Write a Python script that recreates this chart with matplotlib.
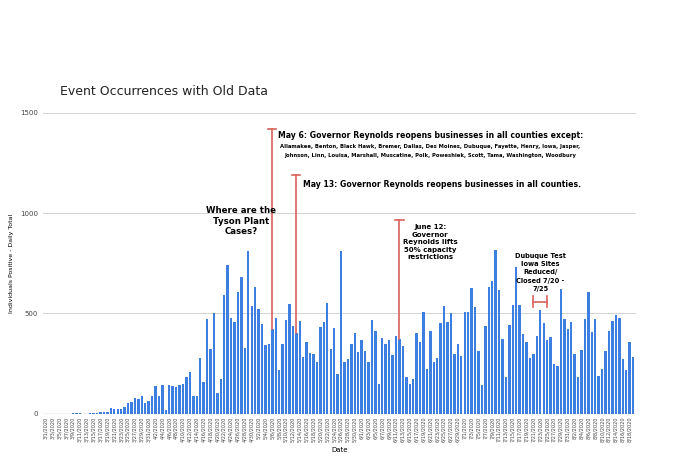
import datetime as dt
import matplotlib.pyplot as plt

values = [0, 0, 0, 0, 0, 0, 0, 0, 5, 3, 2, 1, 0, 2, 2, 4, 7, 10, 10, 28, 25, 25, 25, 33, 53, 60, 77, 72, 90, 53,
          65, 87, 137, 90, 145, 17, 142, 140, 135, 142, 150, 183, 208, 87, 87, 277, 160, 470, 325, 500,
          103, 173, 592, 743, 478, 457, 605, 682, 327, 813, 537, 630, 522, 450, 342, 348, 422, 477, 217, 347,
          467, 545, 437, 403, 462, 285, 358, 305, 297, 260, 432, 457, 552, 325, 427, 197, 813,
          260, 272, 347, 405, 308, 367, 315, 258, 468, 415, 148, 380, 350, 370, 292, 387, 375, 338, 182,
          148, 172, 402, 358, 505, 223, 412, 257, 277, 455, 538, 457, 502, 297, 350, 290, 507, 508, 625,
          532, 313, 142, 440, 630, 662, 815, 618, 372, 183, 445, 540, 730, 543, 398, 357, 280, 300, 387,
          517, 452, 370, 385, 247, 237, 620, 472, 422, 457, 300, 183, 320, 470, 605, 410, 472, 187, 222,
          315, 415, 460, 493, 475, 272, 218, 357, 282]
start = dt.date(2020, 3, 1)
dates = [start + dt.timedelta(days=i) for i in range(len(values))]
labels = [f"{d.month}/{d.day}/2020" for d in dates]

def idx(m, d):
    return (dt.date(2020, m, d) - start).days

fig = plt.figure(figsize=(6.8, 4.74), dpi=100)
ax = fig.add_axes([0.063, 0.127, 0.872, 0.635])
x = list(range(len(values)))
ax.bar(x, values, width=0.7, color='#3d7fe0')
ax.set_xlim(-0.8, len(values) - 0.2)
ax.set_ylim(0, 1500)
ax.set_yticks([0, 500, 1000, 1500])
ax.tick_params(axis='y', labelsize=5, length=0, colors='#444444')
ax.set_xticks(x[::2])
ax.set_xticklabels(labels[::2], rotation=90, fontsize=3.6, color='#444444')
ax.tick_params(axis='x', length=0, pad=2)
ax.grid(axis='y', color='#cccccc', lw=0.6)
ax.set_axisbelow(True)
for s in ax.spines.values():
    s.set_visible(False)
ax.axhline(0, color='#333333', lw=0.8)
ax.set_ylabel('Individuals Positive - Daily Total', fontsize=4.5)
ax.set_xlabel('Date', fontsize=5)
ax.xaxis.set_label_coords(0.5, -0.11)

fig.text(0.088, 0.80, 'Event Occurrences with Old Data', fontsize=9, color='#222222')

red = '#d9625a'
for (m, d), top in [((5, 6), 1420), ((5, 13), 1190), ((6, 12), 965)]:
    i = idx(m, d)
    ax.plot([i, i], [values[i], top], color=red, lw=1.2)
    ax.plot([i - 1.2, i + 1.2], [top, top], color=red, lw=1.2)
ax.plot([idx(7, 21), idx(7, 25)], [558, 558], color=red, lw=1.2)
for i in (idx(7, 21), idx(7, 25)):
    ax.plot([i, i], [530, 586], color=red, lw=1.2)

mid = idx(6, 21)
ax.text(mid, 1385, 'May 6: Governor Reynolds reopens businesses in all counties except:',
        fontsize=5.6, fontweight='bold', va='center', ha='center')
ax.text(mid, 1310, 'Allamakee, Benton, Black Hawk, Bremer, Dallas, Des Moines, Dubuque, Fayette, Henry, Iowa, Jasper,\n'
        'Johnson, Linn, Louisa, Marshall, Muscatine, Polk, Poweshiek, Scott, Tama, Washington, Woodbury',
        fontsize=3.8, fontweight='bold', va='center', ha='center', linespacing=1.8)
ax.text(idx(5, 13) + 2, 1145, 'May 13: Governor Reynolds reopens businesses in all counties.',
        fontsize=5.6, fontweight='bold', va='center')
ax.text(idx(4, 27), 960, 'Where are the\nTyson Plant\nCases?', fontsize=6.2, fontweight='bold',
        ha='center', va='center', linespacing=1.2)
ax.text(idx(6, 21), 855, 'June 12:\nGovernor\nReynolds lifts\n50% capacity\nrestrictions', fontsize=5,
        fontweight='bold', ha='center', va='center', linespacing=1.3)
ax.text(idx(7, 23), 705, 'Dubuque Test\nIowa Sites\nReduced/\nClosed 7/20 -\n7/25', fontsize=4.8,
        fontweight='bold', ha='center', va='center', linespacing=1.45)

fig.savefig('out.png', dpi=100)
